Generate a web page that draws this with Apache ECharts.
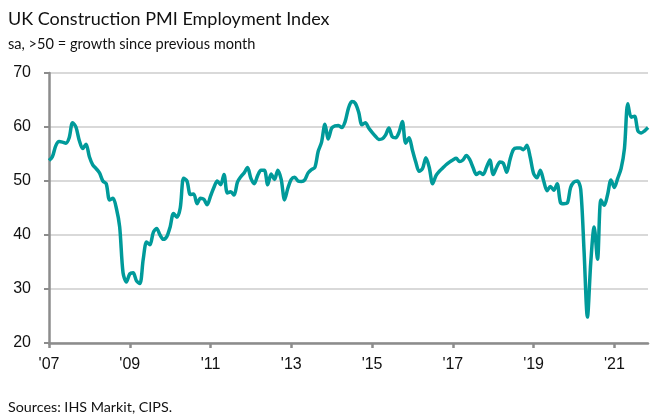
<!DOCTYPE html>
<html>
<head>
<meta charset="utf-8">
<script src="https://cdn.jsdelivr.net/npm/echarts@6/dist/echarts.min.js"></script>
<style>
html,body{margin:0;padding:0;background:#fff;}
#c{width:663px;height:419px;}
</style>
</head>
<body>
<div id="c"></div>
<script>
// Monthly index values, Jan 2007 .. Nov 2021
const values2007 = [53.8, 54.5, 56.5, 57.3, 57.2, 57.0, 58.0, 60.8, 60.0, 57.5, 56.0, 56.8];
const values2008 = [54.5, 53.0, 52.3, 51.5, 50.0, 49.5, 46.5, 46.8, 45.0, 41.5, 33.0, 31.3];
const values2009 = [32.8, 33.0, 31.5, 31.0, 35.5, 38.7, 38.2, 40.5, 41.2, 40.0, 39.2, 39.7];
const values2010 = [41.5, 44.0, 43.3, 45.0, 50.5, 50.0, 47.5, 47.6, 45.8, 46.8, 46.6, 45.6];
const values2011 = [47.2, 48.8, 50.0, 49.3, 51.2, 47.8, 48.0, 47.4, 49.8, 50.8, 51.5, 52.5];
const values2012 = [50.5, 49.5, 51.0, 52.0, 52.0, 49.3, 51.3, 50.3, 52.0, 50.3, 46.5, 48.7];
const values2013 = [50.3, 50.7, 50.0, 49.9, 50.2, 51.5, 52.1, 52.5, 55.5, 57.2, 60.5, 57.8];
const values2014 = [59.8, 60.2, 60.3, 59.9, 61.0, 63.5, 64.7, 64.4, 62.8, 60.4, 60.8, 59.8];
const values2015 = [59.0, 58.3, 57.7, 57.8, 58.5, 59.8, 58.2, 58.0, 59.0, 61.0, 57.0, 58.0];
const values2016 = [55.7, 53.5, 51.8, 52.3, 54.3, 52.5, 49.5, 51.0, 51.8, 52.4, 53.0, 53.5];
const values2017 = [53.9, 54.2, 53.6, 53.9, 54.7, 54.0, 52.5, 51.2, 51.6, 51.2, 52.5, 53.9];
const values2018 = [51.2, 52.5, 53.5, 53.3, 51.6, 54.0, 55.8, 56.1, 56.1, 55.8, 56.6, 54.4];
const values2019 = [51.4, 50.6, 52.0, 50.0, 48.2, 49.0, 48.3, 49.5, 46.0, 45.8, 45.9, 48.8];
const values2020 = [49.8, 50.0, 48.5, 37.0, 24.8, 35.0, 41.5, 35.5, 46.5, 45.5, 47.5, 50.2];
const values2021 = [48.8, 50.5, 52.3, 56.0, 64.3, 61.8, 62.0, 59.3, 58.9, 59.3, 59.9];

const tickLabels = ["'07", "'09", "'11", "'13", "'15", "'17", "'19", "'21"];
const startYear = 2007;

const values = [].concat(values2007, values2008, values2009, values2010, values2011,
  values2012, values2013, values2014, values2015, values2016, values2017, values2018,
  values2019, values2020, values2021);

const categories = values.map((v, i) => {
  const y = startYear + Math.floor(i / 12);
  const m = (i % 12) + 1;
  return y + '-' + (m < 10 ? '0' + m : m);
});

const chart = echarts.init(document.getElementById('c'), null, {renderer: 'canvas'});
const labelFont = '"Liberation Sans Narrow", "Liberation Sans", sans-serif';
const textFont = 'Lato, "Noto Sans", sans-serif';
chart.setOption({
  animation: false,
  backgroundColor: '#ffffff',
  title: [
    {text: 'UK Construction PMI Employment Index', left: 3, top: 5,
     textStyle: {fontFamily: textFont, fontSize: 18, fontWeight: 'normal', color: '#111'}},
    {text: 'sa, >50 = growth since previous month', left: 3, top: 32,
     textStyle: {fontFamily: textFont, fontSize: 14.6, fontWeight: 'normal', color: '#111'}},
    {text: 'Sources: IHS Markit, CIPS.', left: 3, top: 395,
     textStyle: {fontFamily: textFont, fontSize: 14.3, fontWeight: 'normal', color: '#111'}}
  ],
  grid: {left: 49, right: 15, top: 73, bottom: 76, containLabel: false},
  xAxis: {
    type: 'category',
    data: categories,
    boundaryGap: false,
    axisLine: {show: true, lineStyle: {color: '#8c8c8c', width: 2.5}},
    axisTick: {show: true, length: 5, interval: (i) => i % 24 === 0, lineStyle: {color: '#8c8c8c', width: 2.5}},
    axisLabel: {
      interval: (i) => i % 24 === 0,
      formatter: (v, i) => tickLabels[Math.floor(i / 24)],
      margin: 14, fontSize: 16, color: '#111', fontFamily: labelFont
    },
    splitLine: {show: false}
  },
  yAxis: {
    type: 'value', min: 20, max: 70, interval: 10,
    axisLine: {show: true, lineStyle: {color: '#8c8c8c', width: 2.5}},
    axisTick: {show: true, length: 5, lineStyle: {color: '#8c8c8c', width: 2}},
    axisLabel: {margin: 18, fontSize: 16, color: '#111', fontFamily: labelFont},
    splitLine: {show: true, lineStyle: {color: '#d9d9d9', width: 2}}
  },
  series: [{
    type: 'line',
    data: values,
    showSymbol: false,
    smooth: 0.3,
    lineStyle: {color: '#009a9a', width: 3.5},
    z: 3
  }]
});
</script>
</body>
</html>
